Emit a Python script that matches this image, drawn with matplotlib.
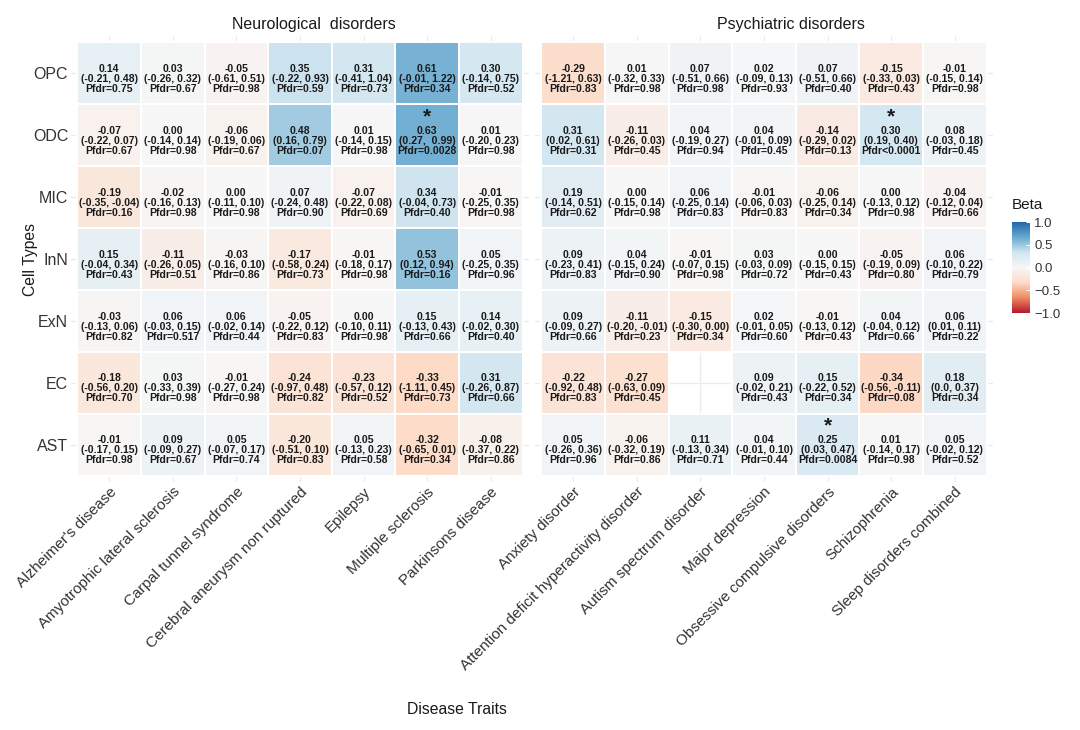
import numpy as np
import matplotlib.pyplot as plt
from matplotlib.colors import LinearSegmentedColormap, Normalize
from matplotlib.cm import ScalarMappable

plt.rcParams['font.family'] = ['Liberation Sans', 'DejaVu Sans']

cell_types = ['OPC', 'ODC', 'MIC', 'InN', 'ExN', 'EC', 'AST']
neuro_traits = ["Alzheimer's disease", 'Amyotrophic lateral sclerosis', 'Carpal tunnel syndrome',
                'Cerebral aneurysm non ruptured', 'Epilepsy', 'Multiple sclerosis', 'Parkinsons disease']
psych_traits = ['Anxiety disorder', 'Attention deficit hyperactivity disorder', 'Autism spectrum disorder',
                'Major depression', 'Obsessive compulsive disorders', 'Schizophrenia', 'Sleep disorders combined']

# rows = cell types, columns = 7 neurological + 7 psychiatric traits
beta = [
    [0.14, 0.03, -0.05, 0.35, 0.31, 0.61, 0.30, -0.29, 0.01, 0.07, 0.02, 0.07, -0.15, -0.01],
    [-0.07, 0.00, -0.06, 0.48, 0.01, 0.63, 0.01, 0.31, -0.11, 0.04, 0.04, -0.14, 0.30, 0.08],
    [-0.19, -0.02, 0.00, 0.07, -0.07, 0.34, -0.01, 0.19, 0.00, 0.06, -0.01, -0.06, 0.00, -0.04],
    [0.15, -0.11, -0.03, -0.17, -0.01, 0.53, 0.05, 0.09, 0.04, -0.01, 0.03, 0.00, -0.05, 0.06],
    [-0.03, 0.06, 0.06, -0.05, 0.00, 0.15, 0.14, 0.09, -0.11, -0.15, 0.02, -0.01, 0.04, 0.06],
    [-0.18, 0.03, -0.01, -0.24, -0.23, -0.33, 0.31, -0.22, -0.27, np.nan, 0.09, 0.15, -0.34, 0.18],
    [-0.01, 0.09, 0.05, -0.20, 0.05, -0.32, -0.08, 0.05, -0.06, 0.11, 0.04, 0.25, 0.01, 0.05],
]
ci = [
    ['(-0.21, 0.48)', '(-0.26, 0.32)', '(-0.61, 0.51)', '(-0.22, 0.93)', '(-0.41, 1.04)', '(-0.01, 1.22)', '(-0.14, 0.75)',
     '(-1.21, 0.63)', '(-0.32, 0.33)', '(-0.51, 0.66)', '(-0.09, 0.13)', '(-0.51, 0.66)', '(-0.33, 0.03)', '(-0.15, 0.14)'],
    ['(-0.22, 0.07)', '(-0.14, 0.14)', '(-0.19, 0.06)', '(0.16, 0.79)', '(-0.14, 0.15)', '(0.27,  0.99)', '(-0.20, 0.23)',
     '(0.02, 0.61)', '(-0.26, 0.03)', '(-0.19, 0.27)', '(-0.01, 0.09)', '(-0.29, 0.02)', '(0.19, 0.40)', '(-0.03, 0.18)'],
    ['(-0.35, -0.04)', '(-0.16, 0.13)', '(-0.11, 0.10)', '(-0.24, 0.48)', '(-0.22, 0.08)', '(-0.04, 0.73)', '(-0.25, 0.35)',
     '(-0.14, 0.51)', '(-0.15, 0.14)', '(-0.25, 0.14)', '(-0.06, 0.03)', '(-0.25, 0.14)', '(-0.13, 0.12)', '(-0.12, 0.04)'],
    ['(-0.04, 0.34)', '(-0.26, 0.05)', '(-0.16, 0.10)', '(-0.58, 0.24)', '(-0.18, 0.17)', '(0.12, 0.94)', '(-0.25, 0.35)',
     '(-0.23, 0.41)', '(-0.15, 0.24)', '(-0.07, 0.15)', '(-0.03, 0.09)', '(-0.15, 0.15)', '(-0.19, 0.09)', '(-0.10, 0.22)'],
    ['(-0.13, 0.06)', '(-0.03, 0.15)', '(-0.02, 0.14)', '(-0.22, 0.12)', '(-0.10, 0.11)', '(-0.13, 0.43)', '(-0.02, 0.30)',
     '(-0.09, 0.27)', '(-0.20, -0.01)', '(-0.30, 0.00)', '(-0.01, 0.05)', '(-0.13, 0.12)', '(-0.04, 0.12)', '(0.01, 0.11)'],
    ['(-0.56, 0.20)', '(-0.33, 0.39)', '(-0.27, 0.24)', '(-0.97, 0.48)', '(-0.57, 0.12)', '(-1.11, 0.45)', '(-0.26, 0.87)',
     '(-0.92, 0.48)', '(-0.63, 0.09)', '', '(-0.02, 0.21)', '(-0.22, 0.52)', '(-0.56, -0.11)', '(0.0, 0.37)'],
    ['(-0.17, 0.15)', '(-0.09, 0.27)', '(-0.07, 0.17)', '(-0.51, 0.10)', '(-0.13, 0.23)', '(-0.65, 0.01)', '(-0.37, 0.22)',
     '(-0.26, 0.36)', '(-0.32, 0.19)', '(-0.13, 0.34)', '(-0.01, 0.10)', '(0.03, 0.47)', '(-0.14, 0.17)', '(-0.02, 0.12)'],
]
pfdr = [
    ['0.75', '0.67', '0.98', '0.59', '0.73', '0.34', '0.52', '0.83', '0.98', '0.98', '0.93', '0.40', '0.43', '0.98'],
    ['0.67', '0.98', '0.67', '0.07', '0.98', '0.0028', '0.98', '0.31', '0.45', '0.94', '0.45', '0.13', '<0.0001', '0.45'],
    ['0.16', '0.98', '0.98', '0.90', '0.69', '0.40', '0.98', '0.62', '0.98', '0.83', '0.83', '0.34', '0.98', '0.66'],
    ['0.43', '0.51', '0.86', '0.73', '0.98', '0.16', '0.96', '0.83', '0.90', '0.98', '0.72', '0.43', '0.80', '0.79'],
    ['0.82', '0.517', '0.44', '0.83', '0.98', '0.66', '0.40', '0.66', '0.23', '0.34', '0.60', '0.43', '0.66', '0.22'],
    ['0.70', '0.98', '0.98', '0.82', '0.52', '0.73', '0.66', '0.83', '0.45', '', '0.43', '0.34', '0.08', '0.34'],
    ['0.98', '0.67', '0.74', '0.83', '0.58', '0.34', '0.86', '0.96', '0.86', '0.71', '0.44', '0.0084', '0.98', '0.52'],
]

# RdBu (brewer 7 class), blue = positive
cmap = LinearSegmentedColormap.from_list(
    'rdbu7', ['#b2182b', '#ef8a62', '#fddbc7', '#f7f7f7', '#d1e5f0', '#67a9cf', '#2166ac'])
norm = Normalize(-1, 1)

fig = plt.figure(figsize=(10.8, 7.3), dpi=100)
panel_w = 458 / 1080
panel_b = 1 - 482 / 730
panel_h = 446 / 730
ax_left = fig.add_axes([71 / 1080, panel_b, panel_w, panel_h])
ax_right = fig.add_axes([535 / 1080, panel_b, panel_w, panel_h])

beta_arr = np.array(beta, dtype=float)
n_rows = len(cell_types)

for k, (ax, traits) in enumerate([(ax_left, neuro_traits), (ax_right, psych_traits)]):
    cols = slice(k * 7, k * 7 + 7)
    vals = np.ma.masked_invalid(beta_arr[:, cols])
    ax.pcolormesh(np.arange(8) - 0.5, np.arange(n_rows + 1) - 0.5, vals,
                  cmap=cmap, norm=norm, edgecolors='white', linewidth=1.2, zorder=2)
    for i in range(n_rows):
        for j in range(7):
            c = k * 7 + j
            b = beta[i][c]
            if np.isnan(b):
                continue
            p = pfdr[i][c]
            ptxt = 'Pfdr' + p if p.startswith('<') else 'Pfdr=' + p
            ax.text(j, i + 0.09, f'{b:.2f}\n{ci[i][c]}\n{ptxt}', ha='center', va='center',
                    fontsize=7.6, fontweight='bold', linespacing=1.0, color='#1a1a1a', zorder=3)
            if float(p.lstrip('<')) < 0.05:
                ax.text(j, i - 0.3, '*', ha='center', va='center', fontsize=15,
                        fontweight='bold', color='#1a1a1a', zorder=3)
    ax.set_xlim(-0.6, 6.6)
    ax.set_ylim(n_rows - 0.4, -0.6)
    ax.set_xticks(range(7))
    ax.set_xticklabels(traits, rotation=45, ha='right', va='top', rotation_mode='anchor',
                       fontsize=11, color='#333333')
    ax.set_yticks(range(n_rows))
    if k == 0:
        ax.set_yticklabels(cell_types, fontsize=11.5, color='#333333')
    else:
        ax.set_yticklabels([])
    ax.tick_params(length=0, pad=2)
    ax.grid(True, color='#ebebeb', linewidth=0.9, zorder=0)
    ax.set_axisbelow(True)
    for s in ax.spines.values():
        s.set_visible(False)

fig.text(314 / 1080, 1 - 25 / 730, 'Neurological  disorders', ha='center', va='center', fontsize=11.5, color='#1a1a1a')
fig.text(791 / 1080, 1 - 25 / 730, 'Psychiatric disorders', ha='center', va='center', fontsize=11.5, color='#1a1a1a')
fig.text(457 / 1080, 1 - 709 / 730, 'Disease Traits', ha='center', va='center', fontsize=11.3, color='#1a1a1a')
fig.text(30 / 1080, 1 - 260 / 730, 'Cell Types', ha='center', va='center', rotation=90, fontsize=11.3, color='#1a1a1a')

# colour bar
cax = fig.add_axes([1012 / 1080, 1 - 313 / 730, 18 / 1080, 91 / 730])
cb = fig.colorbar(ScalarMappable(norm=norm, cmap=cmap), cax=cax, ticks=[-1, -0.5, 0, 0.5, 1])
cb.outline.set_visible(False)
cb.ax.set_yticklabels(['\u22121.0', '\u22120.5', '0.0', '0.5', '1.0'])
cb.ax.tick_params(length=3, color='white', direction='in', labelsize=9.5, labelcolor='#333333', pad=3)
fig.text(1012 / 1080, 1 - 205 / 730, 'Beta', ha='left', va='center', fontsize=11, color='#1a1a1a')

fig.savefig('out.png', dpi=100)
